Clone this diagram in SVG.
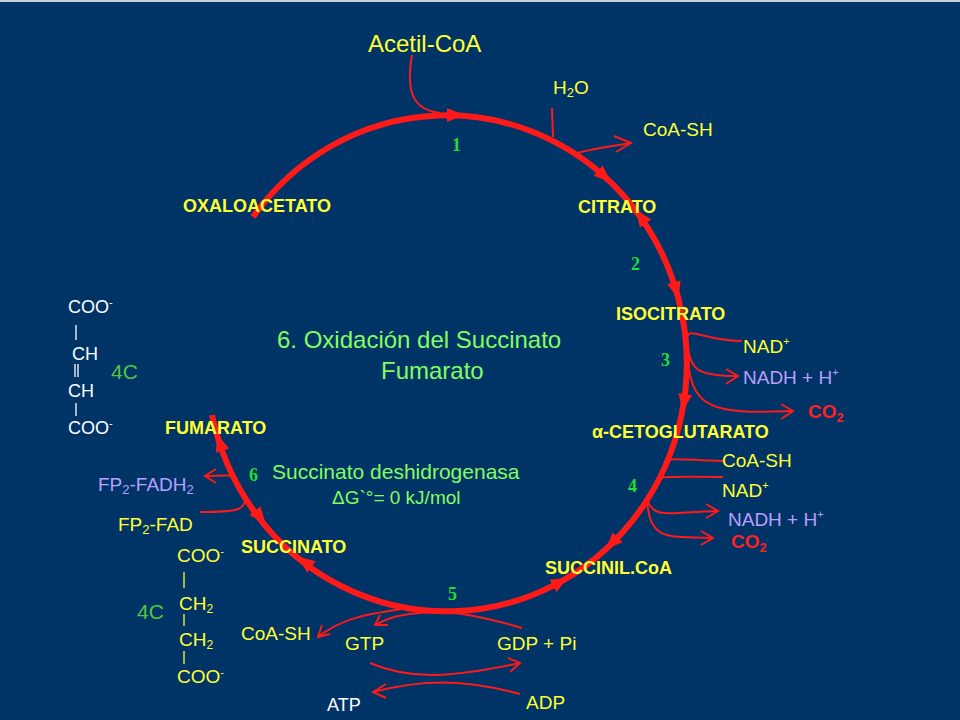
<svg xmlns="http://www.w3.org/2000/svg" width="960" height="720" viewBox="0 0 960 720">
<style>
text{font-family:"Liberation Sans",Arial,sans-serif}
.y{fill:#ffff33;font-size:19px}
.b{fill:#ffff33;font-size:18px;font-weight:bold}
.g{fill:#80ff60;font-size:24px}
.n{fill:#22dd33;font-size:18px;font-weight:bold;font-family:"Liberation Serif",serif}
.w{fill:#ffffff;font-size:18px}
.p{fill:#b8a0ff;font-size:19px}
.r{fill:#ff2020;font-size:19px;font-weight:bold}
.c{fill:#4fc840;font-size:21px}
.t{fill:none;stroke:#ff1a1a;stroke-width:2}
.big{fill:none;stroke:#ff1a1a;stroke-width:6}
.h{fill:#ff1a1a}
.wl{stroke:#ffffff;stroke-width:1.3}
.yl{stroke:#ffff33;stroke-width:1.3}
</style>
<defs><polygon id="ah" class="h" points="9,0 -8,-7 -8,7"/></defs>
<rect width="960" height="720" fill="#003366"/>
<rect x="0" y="0" width="960" height="2" fill="#c8d0e0"/>
<g id="cycle">
<path class="big" d="M253,217 A240,248 0 1 1 212,415"/>
<use href="#ah" transform="translate(455,115)"/>
<use href="#ah" transform="translate(604,176) rotate(42)"/>
<use href="#ah" transform="translate(641,217) rotate(235)"/>
<use href="#ah" transform="translate(676,290) rotate(74)"/>
<use href="#ah" transform="translate(684,402) rotate(99)"/>
<use href="#ah" transform="translate(612,543) rotate(135)"/>
<use href="#ah" transform="translate(560,582) rotate(-29)"/>
<use href="#ah" transform="translate(305,562) rotate(217)"/>
<use href="#ah" transform="translate(260,517) rotate(52)"/>
<use href="#ah" transform="translate(220,443) rotate(252)"/>
</g>
<g id="connectors">
<path class="t" d="M412,55 C405,95 415,110 440,113"/>
<path class="t" d="M552,108 L553,137"/>
<path class="t" d="M577,153 C600,147 615,146 630,143"/><polyline class="t" points="614,136 631,143 616,152"/>
<path class="t" d="M687,343 C685,322 700,341 742,341"/>
<path class="t" d="M687,343 C690,372 700,376 738,376"/><polyline class="t" points="726,369 738,376 726,384"/>
<path class="t" d="M687,350 C690,410 710,414 793,411"/><polyline class="t" points="781,404 793,411 781,419"/>
<path class="t" d="M668,460 C672,458 690,460 723,461"/>
<path class="t" d="M658,478 C665,476 690,477 723,477"/>
<path class="t" d="M647,500 C655,520 670,512 718,511"/><polyline class="t" points="706,504 718,511 706,518"/>
<path class="t" d="M647,500 C650,540 665,537 713,538"/><polyline class="t" points="701,531 713,538 701,545"/>
<path class="t" d="M236,476 C230,475 215,476 205,476"/><polyline class="t" points="216,469 205,476 216,483"/>
<path class="t" d="M246,498 C243,510 240,512 200,512"/>
<path class="t" d="M402,609 C360,615 340,620 318,637"/><polyline class="t" points="322,625 318,637 330,634"/>
<path class="t" d="M432,612 C400,614 390,617 375,625"/><polyline class="t" points="380,615 375,625 388,625"/>
<path class="t" d="M522,628 C495,620 470,614 445,612"/>
<path class="t" d="M370,663 C410,680 450,678 520,663"/><polyline class="t" points="508,658 520,663 510,672"/>
<path class="t" d="M520,694 C460,678 420,680 373,692"/><polyline class="t" points="386,684 373,692 386,698"/>
</g>
<g id="labels">
<text class="y" x="368" y="52" style="font-size:24px">Acetil-CoA</text>
<text class="y" x="553" y="94">H<tspan font-size="13" dy="3">2</tspan><tspan dy="-3">O</tspan></text>
<text class="y" x="643" y="136">CoA-SH</text>
<text class="n" x="452" y="151">1</text>
<text class="b" x="183" y="212">OXALOACETATO</text>
<text class="b" x="578" y="213">CITRATO</text>
<text class="n" x="631" y="270">2</text>
<text class="b" x="616" y="320">ISOCITRATO</text>
<text class="n" x="661" y="366">3</text>
<text class="y" x="743" y="353">NAD<tspan font-size="11" dy="-8">+</tspan></text>
<text class="p" x="743" y="384">NADH + H<tspan font-size="11" dy="-8">+</tspan></text>
<text class="r" x="808" y="418">CO<tspan font-size="13" dy="4">2</tspan></text>
<text class="b" x="592" y="438">α-CETOGLUTARATO</text>
<text class="y" x="722" y="467">CoA-SH</text>
<text class="y" x="722" y="497">NAD<tspan font-size="11" dy="-8">+</tspan></text>
<text class="n" x="628" y="492">4</text>
<text class="p" x="728" y="526">NADH + H<tspan font-size="11" dy="-8">+</tspan></text>
<text class="r" x="731" y="548">CO<tspan font-size="13" dy="4">2</tspan></text>
<text class="b" x="545" y="574">SUCCINIL.CoA</text>
<text class="n" x="448" y="600">5</text>
<text class="y" x="241" y="640">CoA-SH</text>
<text class="y" x="345" y="650">GTP</text>
<text class="y" x="497" y="650">GDP + Pi</text>
<text class="w" x="327" y="711">ATP</text>
<text class="y" x="526" y="709">ADP</text>
<text class="b" x="241" y="553">SUCCINATO</text>
<text class="g" x="277" y="348">6. Oxidación del Succinato</text>
<text class="g" x="381" y="379">Fumarato</text>
<text class="g" x="272" y="479" style="font-size:21px">Succinato deshidrogenasa</text>
<text class="g" x="332" y="504" style="font-size:19px">ΔG`°= 0  kJ/mol</text>
<text class="n" x="249" y="481">6</text>
<text class="b" x="165" y="434">FUMARATO</text>
<text class="p" x="98" y="491">FP<tspan font-size="13" dy="3">2</tspan><tspan dy="-3">-FADH</tspan><tspan font-size="13" dy="3">2</tspan></text>
<text class="y" x="118" y="531">FP<tspan font-size="13" dy="3">2</tspan><tspan dy="-3">-FAD</tspan></text>
<text class="w" x="68" y="313">COO<tspan font-size="11" dy="-7">-</tspan></text>
<text class="w" x="72" y="360">CH</text>
<text class="w" x="68" y="397">CH</text>
<text class="w" x="68" y="434">COO<tspan font-size="11" dy="-7">-</tspan></text>
<line class="wl" x1="76" y1="325" x2="76" y2="340"/>
<line class="wl" x1="75" y1="364" x2="75" y2="377"/>
<line class="wl" x1="78" y1="364" x2="78" y2="377"/>
<line class="wl" x1="76" y1="403" x2="76" y2="416"/>
<text class="c" x="111" y="379">4C</text>
<text class="y" x="177" y="562">COO<tspan font-size="11" dy="-7">-</tspan></text>
<text class="y" x="179" y="610">CH<tspan font-size="12" dy="3">2</tspan></text>
<text class="y" x="179" y="646">CH<tspan font-size="12" dy="3">2</tspan></text>
<text class="y" x="177" y="683">COO<tspan font-size="11" dy="-7">-</tspan></text>
<line class="yl" x1="184" y1="572" x2="184" y2="588"/>
<line class="yl" x1="184" y1="614" x2="184" y2="626"/>
<line class="yl" x1="184" y1="651" x2="184" y2="664"/>
<text class="c" x="137" y="619">4C</text>
</g>
</svg>
